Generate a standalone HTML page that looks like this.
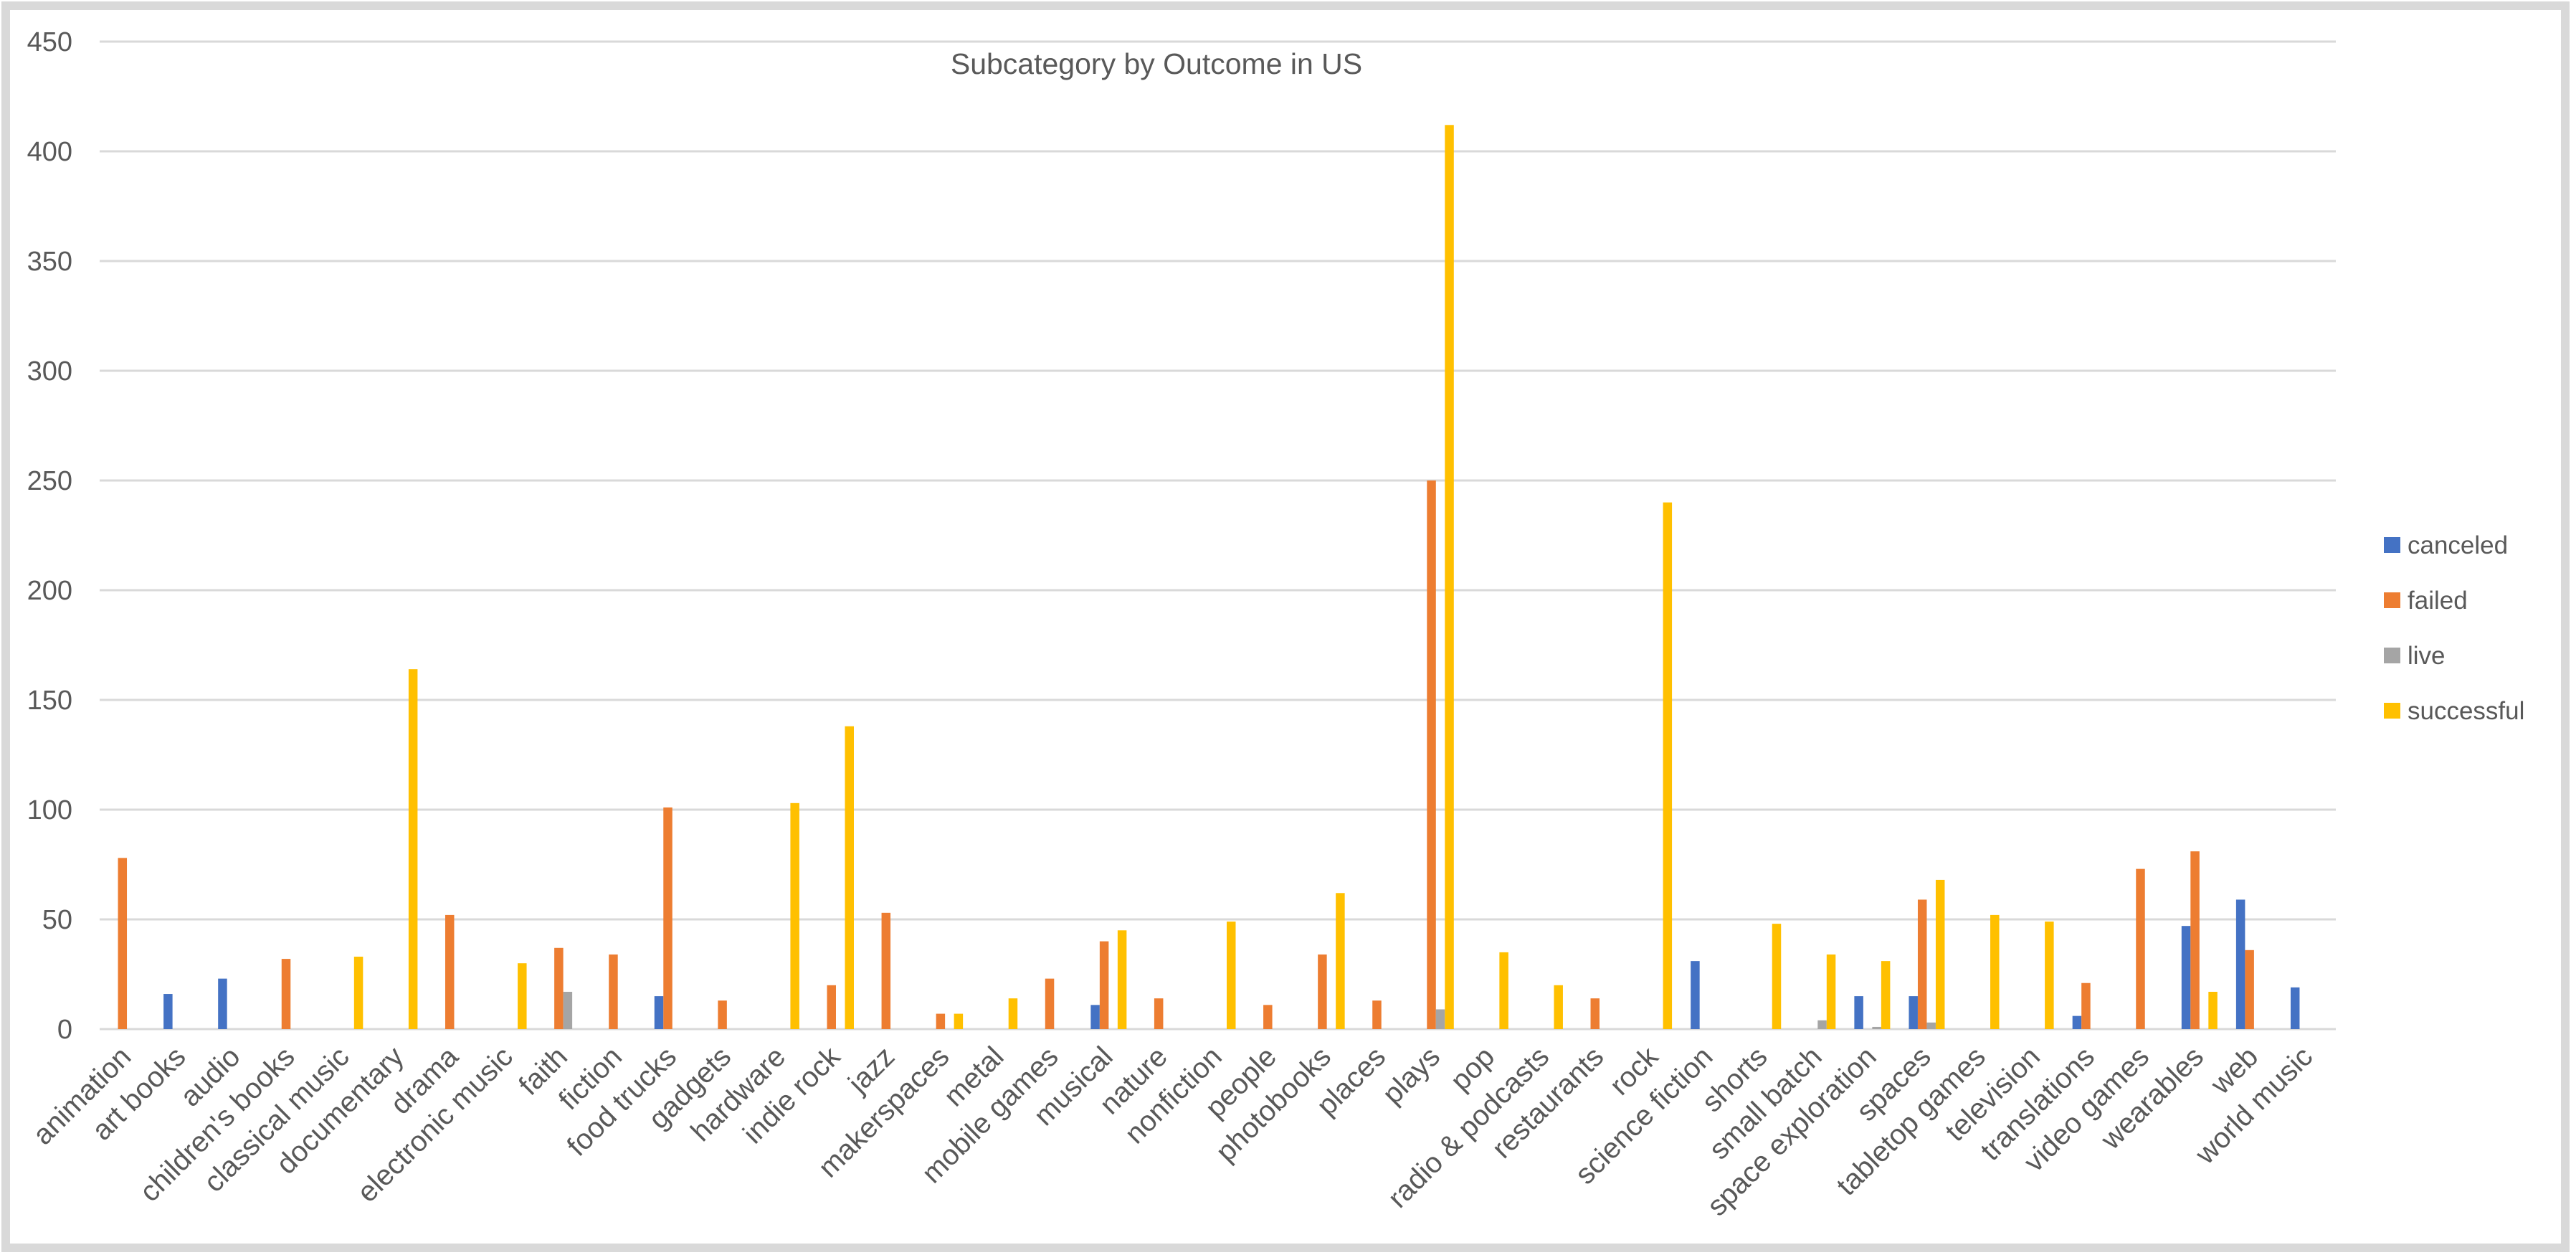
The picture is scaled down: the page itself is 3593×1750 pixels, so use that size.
<!DOCTYPE html>
<html><head><meta charset="utf-8"><style>
html,body{margin:0;padding:0;background:#fff;}
svg{display:block;font-family:"Liberation Sans",sans-serif;}
</style></head><body>
<svg id="chart" width="3593" height="1750" viewBox="0 0 3593 1750" xmlns="http://www.w3.org/2000/svg">
<rect x="8" y="8" width="3570" height="1732" fill="#fff" stroke="#d9d9d9" stroke-width="12"/>
<text x="1613" y="103" text-anchor="middle" font-size="41" fill="#595959">Subcategory by Outcome in US</text>
<g id="grid"></g>
<g id="yticks"></g>
<g id="bars"></g>
<g id="xlabels"></g>
<g id="legend"></g>
</svg>
<script>
const categories = ["animation","art books","audio","children's books","classical music","documentary","drama","electronic music","faith","fiction","food trucks","gadgets","hardware","indie rock","jazz","makerspaces","metal","mobile games","musical","nature","nonfiction","people","photobooks","places","plays","pop","radio & podcasts","restaurants","rock","science fiction","shorts","small batch","space exploration","spaces","tabletop games","television","translations","video games","wearables","web","world music"];
const canceled =   [0,16,23,0,0,0,0,0,0,0,15,0,0,0,0,0,0,0,11,0,0,0,0,0,0,0,0,0,0,31,0,0,15,15,0,0,6,0,47,59,19];
const failed =     [78,0,0,32,0,0,52,0,37,34,101,13,0,20,53,7,0,23,40,14,0,11,34,13,250,0,0,14,0,0,0,0,0,59,0,0,21,73,81,36,0];
const live =       [0,0,0,0,0,0,0,0,17,0,0,0,0,0,0,0,0,0,0,0,0,0,0,0,9,0,0,0,0,0,0,4,1,3,0,0,0,0,0,0,0];
const successful = [0,0,0,0,33,164,0,30,0,0,0,0,103,138,0,7,14,0,45,0,49,0,62,0,412,35,20,0,240,0,48,34,31,68,52,49,0,0,17,0,0];
const seriesNames = ["canceled","failed","live","successful"];
const yTicks = [0,50,100,150,200,250,300,350,400,450];

const NS="http://www.w3.org/2000/svg";
const colors=["#4472c4","#ed7d31","#a5a5a5","#ffc000"];
const series=[canceled,failed,live,successful];
const left=139,right=3258,y0=1435,yTop=58,yMax=450;
const band=(right-left)/categories.length;
const bw=12.5;
function yScale(v){return y0-(v/yMax)*(y0-yTop);}
function xCenter(i){return left+band*(i+0.5);}
function mk(tag,attrs,parent){const e=document.createElementNS(NS,tag);for(const k in attrs)e.setAttribute(k,attrs[k]);parent.appendChild(e);return e;}

const grid=document.getElementById('grid'),yt=document.getElementById('yticks');
yTicks.forEach(t=>{
  const l=mk('line',{x1:left,x2:right,y1:yScale(t),y2:yScale(t),stroke:'#d9d9d9','stroke-width':3},grid);
  
  
  const tx=mk('text',{x:101,y:yScale(t)+13,'text-anchor':'end','font-size':38,fill:'#595959'},yt);
  tx.textContent=t;
  
  
});
const bars=document.getElementById('bars');
categories.forEach((c,i)=>{
  series.forEach((s,j)=>{
    const v=s[i]; if(!v) return;
    const x=xCenter(i)+(j-2)*bw;
    const r=mk('rect',{x:x,y:yScale(v),width:bw,height:y0-yScale(v),fill:colors[j]},bars);
    
    
  });
});
const xl=document.getElementById('xlabels');
categories.forEach((c,i)=>{
  const x=xCenter(i)+8,y=1476;
  const t=mk('text',{x:x,y:y,'text-anchor':'end','font-size':40,fill:'#595959',transform:`rotate(-45 ${x} ${y})`},xl);
  t.textContent=c;
  
  
});
const lg=document.getElementById('legend');
const legY=[760,837,914,991];
seriesNames.forEach((n,j)=>{
  const g=mk('g',{},lg);
  
  
  mk('rect',{x:3325,y:legY[j]-11,width:23,height:22,fill:colors[j]},g);
  const t=mk('text',{x:3358,y:legY[j]+12,'font-size':35,fill:'#595959'},g);
  t.textContent=n;
});
</script>
</body></html>
